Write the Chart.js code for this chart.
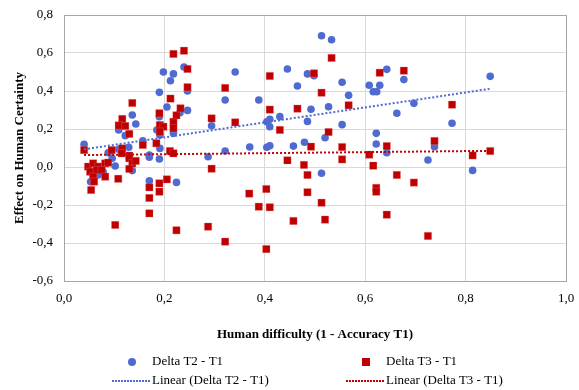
<!DOCTYPE html>
<html>
<head>
<meta charset="utf-8">
<script src="https://cdn.jsdelivr.net/npm/chart.js@4.4.1/dist/chart.umd.min.js"></script>
<style>
  html, body { margin: 0; padding: 0; background: #fff; }
  #wrap { width: 579px; height: 390px; }
</style>
</head>
<body>
<div id="wrap"><canvas id="chart" width="579" height="390"></canvas></div>
<script>
// values
const t2Points = [
  [0.040, 0.120], [0.088, 0.075], [0.109, 0.093], [0.096, 0.046], [0.102, 0.005],
  [0.053, -0.078], [0.068, -0.042], [0.078, -0.025], [0.129, 0.104], [0.136, -0.019],
  [0.122, 0.165], [0.109, 0.195], [0.136, 0.274], [0.143, 0.226], [0.157, 0.138],
  [0.170, 0.063], [0.170, 0.051], [0.170, -0.072], [0.185, 0.195], [0.191, 0.168],
  [0.191, 0.098], [0.190, 0.042], [0.190, 0.265], [0.190, 0.393], [0.198, 0.500],
  [0.205, 0.316], [0.212, 0.454], [0.218, 0.490], [0.218, 0.177], [0.224, -0.081],
  [0.231, 0.286], [0.239, 0.526], [0.246, 0.400], [0.246, 0.298], [0.294, 0.217],
  [0.287, 0.054], [0.321, 0.353], [0.321, 0.084], [0.341, 0.500], [0.370, 0.105],
  [0.388, 0.353], [0.404, 0.238], [0.410, 0.251], [0.410, 0.212], [0.404, 0.104],
  [0.410, 0.112], [0.430, 0.265], [0.445, 0.516], [0.457, 0.110], [0.465, 0.426],
  [0.479, 0.130], [0.485, 0.490], [0.485, 0.240], [0.492, 0.304], [0.498, 0.480],
  [0.513, 0.691], [0.520, 0.154], [0.513, -0.033], [0.527, 0.317], [0.533, 0.670],
  [0.554, 0.446], [0.554, 0.223], [0.567, 0.377], [0.608, 0.430], [0.616, 0.396],
  [0.623, 0.396], [0.629, 0.430], [0.622, 0.177], [0.622, 0.121], [0.643, 0.514],
  [0.643, 0.075], [0.663, 0.283], [0.677, 0.460], [0.697, 0.335], [0.725, 0.037],
  [0.738, 0.107], [0.773, 0.230], [0.814, -0.018], [0.849, 0.477]
]

const t3Points = [
  [0.040, 0.089], [0.095, 0.089], [0.116, 0.098], [0.115, 0.072], [0.130, 0.060],
  [0.130, 0.046], [0.136, 0.019], [0.143, 0.032], [0.130, -0.010], [0.048, 0.002],
  [0.058, 0.019], [0.068, 0.002], [0.082, 0.019], [0.088, 0.023], [0.052, -0.025],
  [0.065, -0.016], [0.075, -0.016], [0.058, -0.051], [0.082, -0.051], [0.060, -0.077],
  [0.054, -0.121], [0.108, -0.062], [0.102, -0.305], [0.116, 0.253], [0.109, 0.219],
  [0.122, 0.216], [0.130, 0.174], [0.136, 0.337], [0.157, 0.116], [0.184, 0.125],
  [0.190, 0.283], [0.191, 0.221], [0.198, 0.212], [0.191, 0.186], [0.212, 0.360],
  [0.218, 0.238], [0.218, 0.204], [0.218, 0.595], [0.224, 0.272], [0.232, 0.309],
  [0.239, 0.612], [0.246, 0.516], [0.246, 0.420], [0.211, 0.084], [0.218, 0.072],
  [0.170, -0.107], [0.170, -0.163], [0.170, -0.244], [0.190, -0.086], [0.190, -0.130],
  [0.205, -0.065], [0.224, -0.333], [0.287, -0.314], [0.294, 0.256], [0.294, -0.009],
  [0.321, 0.416], [0.321, -0.393], [0.341, 0.235], [0.369, -0.140], [0.388, -0.209],
  [0.410, 0.479], [0.410, 0.302], [0.403, -0.116], [0.410, -0.212], [0.403, -0.432],
  [0.430, 0.195], [0.445, 0.035], [0.457, -0.284], [0.465, 0.307], [0.478, 0.011],
  [0.485, -0.042], [0.485, -0.133], [0.492, 0.107], [0.498, 0.493], [0.513, 0.391],
  [0.513, -0.188], [0.520, -0.277], [0.527, 0.184], [0.533, 0.574], [0.554, 0.105],
  [0.554, 0.040], [0.567, 0.325], [0.608, 0.065], [0.616, 0.007], [0.622, -0.110],
  [0.622, -0.130], [0.629, 0.496], [0.643, 0.110], [0.643, -0.251], [0.663, -0.042],
  [0.677, 0.507], [0.697, -0.082], [0.725, -0.363], [0.738, 0.137], [0.773, 0.328],
  [0.814, 0.061], [0.849, 0.084]
]

// trend line ends
const trendX = [0.04, 0.85]
const t2Trend = [0.093, 0.412]
const t3Trend = [0.063, 0.085]

const xTicks = [0, 0.2, 0.4, 0.6, 0.8, 1.0]
const yTicks = [-0.6, -0.4, -0.2, 0, 0.2, 0.4, 0.6, 0.8]

const BLUE = "#4f6bd1"
const RED = "#c00000"
const FONT = "'Liberation Serif', 'Times New Roman', serif"
const Y_TITLE = "Effect on Human Certainty"

const toXY = (pts) => pts.map(([x, y]) => ({ x, y }))
const fmt = (v) => (Math.abs(v) < 1e-9 ? 0 : v).toFixed(1).replace(".", ",")

// frame round the plot area + the rotated y title
const framePlugin = {
  id: "frame",
  beforeDatasetsDraw(chart) {
    const { ctx, chartArea: a } = chart
    ctx.save()
    ctx.strokeStyle = "#a6a6a6"
    ctx.lineWidth = 1
    ctx.strokeRect(Math.round(a.left) + 0.5, Math.round(a.top) + 0.5,
      Math.round(a.right - a.left), Math.round(a.bottom - a.top))
    ctx.translate(20, (a.top + a.bottom) / 2)
    ctx.rotate(-Math.PI / 2)
    ctx.font = "bold 13px " + FONT
    ctx.fillStyle = "#000"
    ctx.textAlign = "center"
    ctx.textBaseline = "middle"
    ctx.fillText(Y_TITLE, 0, 0)
    ctx.restore()
  },
}

// two column legend like the reference
const legendPlugin = {
  id: "twoColLegend",
  afterDraw(chart) {
    const { ctx } = chart
    const ds = chart.data.datasets
    ctx.save()
    ctx.font = "13px " + FONT
    ctx.fillStyle = "#000"
    ctx.textBaseline = "middle"
    const cols = [112, 346]
    const rows = [362, 381]
    ds.forEach((d, i) => {
      const col = cols[i % 2]
      const row = rows[Math.floor(i / 2)]
      if (d.showLine) {
        ctx.strokeStyle = d.borderColor
        ctx.lineWidth = 2
        ctx.setLineDash([2, 1])
        ctx.beginPath()
        ctx.moveTo(col, row)
        ctx.lineTo(col + 38, row)
        ctx.stroke()
        ctx.setLineDash([])
      } else if (d.pointStyle === "rect") {
        ctx.fillStyle = d.backgroundColor
        ctx.fillRect(col + 16, row - 4, 8, 8)
      } else {
        ctx.fillStyle = d.backgroundColor
        ctx.beginPath()
        ctx.arc(col + 20, row, 4, 0, Math.PI * 2)
        ctx.fill()
      }
      ctx.fillStyle = "#000"
      ctx.fillText(d.label, col + 40, row)
    })
    ctx.restore()
  },
}

new Chart(document.getElementById("chart"), {
  type: "scatter",
  data: {
    datasets: [
      {
        label: "Delta T2 - T1",
        data: toXY(t2Points),
        backgroundColor: BLUE,
        borderColor: BLUE,
        borderWidth: 0,
        pointStyle: "circle",
        pointRadius: 3.8,
        order: 2,
      },
      {
        label: "Delta T3 - T1",
        data: toXY(t3Points),
        backgroundColor: RED,
        borderColor: "rgba(230,120,120,0.6)",
        borderWidth: 0.5,
        pointStyle: "rect",
        pointRadius: 5.2,
        order: 1,
      },
      {
        label: "Linear (Delta T2 - T1)",
        data: trendX.map((x, i) => ({ x, y: t2Trend[i] })),
        showLine: true,
        borderColor: BLUE,
        backgroundColor: BLUE,
        borderWidth: 2,
        borderDash: [2, 2],
        pointRadius: 0,
        order: 0,
      },
      {
        label: "Linear (Delta T3 - T1)",
        data: trendX.map((x, i) => ({ x, y: t3Trend[i] })),
        showLine: true,
        borderColor: RED,
        backgroundColor: RED,
        borderWidth: 2,
        borderDash: [2, 2],
        pointRadius: 0,
        order: 0,
      },
    ],
  },
  options: {
    responsive: false,
    animation: false,
    layout: { padding: { top: 15, right: 13, left: 0, bottom: 0 } },
    plugins: {
      legend: { display: false },
      tooltip: { enabled: false },
    },
    scales: {
      x: {
        type: "linear",
        min: 0,
        max: 1,
        afterBuildTicks: (s) => { s.ticks = xTicks.map((v) => ({ value: v })) },
        afterFit: (s) => {
          s.height = 109
          s.paddingLeft = 0
          s.paddingRight = 0
        },
        ticks: {
          callback: (v) => fmt(v),
          color: "#000",
          padding: 10,
          font: { size: 13, family: FONT },
        },
        grid: { color: "#d9d9d9", drawTicks: false },
        border: { display: false },
        title: {
          display: true,
          text: "Human difficulty (1 - Accuracy T1)",
          color: "#000",
          font: { size: 13, weight: "bold", family: FONT },
          padding: { top: 0, bottom: 48 },
        },
      },
      y: {
        min: -0.6,
        max: 0.8,
        afterBuildTicks: (s) => { s.ticks = yTicks.map((v) => ({ value: v })) },
        afterFit: (s) => {
          s.width = 64
          s.paddingTop = 0
          s.paddingBottom = 0
        },
        ticks: {
          callback: (v) => fmt(v),
          color: "#000",
          padding: 11,
          font: { size: 13, family: FONT },
        },
        grid: { color: "#d9d9d9", drawTicks: false },
        border: { display: false },
      },
    },
  },
  plugins: [framePlugin, legendPlugin],
})
</script>
</body>
</html>
